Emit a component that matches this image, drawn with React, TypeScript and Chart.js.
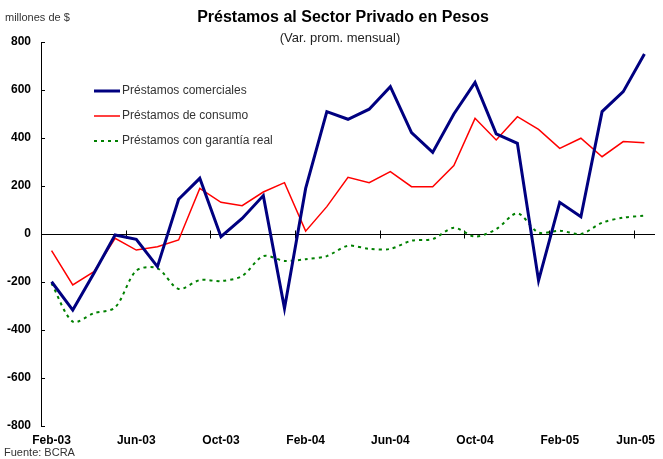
import React, { useEffect, useRef } from "react";
import { Chart, registerables } from "chart.js";

Chart.register(...registerables);

const months: string[] = [
  "Feb-03", "Mar-03", "Apr-03", "May-03", "Jun-03", "Jul-03", "Aug-03", "Sep-03", "Oct-03", "Nov-03", "Dec-03",
  "Jan-04", "Feb-04", "Mar-04", "Apr-04", "May-04", "Jun-04", "Jul-04", "Aug-04", "Sep-04", "Oct-04", "Nov-04", "Dec-04",
  "Jan-05", "Feb-05", "Mar-05", "Apr-05", "May-05", "Jun-05",
];

const tickLabels: string[] = ["Feb-03", "Jun-03", "Oct-03", "Feb-04", "Jun-04", "Oct-04", "Feb-05", "Jun-05"];

const comerciales: number[] = [
  -199, -317, -164, -4, -22, -136, 145, 232, -11, 65, 160,
  -310, 190, 510, 478, 520, 614, 422, 340, 500, 632, 417, 378,
  -194, 132, 72, 510, 593, 750,
];

const consumo: number[] = [
  -69, -212, -157, -18, -67, -53, -25, 190, 132, 118, 175,
  214, 12, 114, 236, 214, 260, 197, 197, 285, 482, 392, 489,
  436, 357, 399, 322, 385, 380,
];

const garantiaReal: number[] = [
  -206, -365, -330, -306, -153, -143, -229, -192, -196, -175, -92,
  -112, -105, -92, -49, -62, -62, -28, -21, 26, -11, 20, 86,
  6, 14, 0, 47, 68, 76,
];

const seriesNames: string[] = ["Préstamos comerciales", "Préstamos de consumo", "Préstamos con garantía real"];

const FONT = '"Liberation Sans", Arial, sans-serif';

const overlayPlugin = {
  id: "overlay",
  beforeDatasetsDraw(chart: any) {
    const { ctx, chartArea } = chart;
    const xs = chart.scales.x;
    const ys = chart.scales.y;
    ctx.save();
    ctx.strokeStyle = "#000";
    ctx.lineWidth = 1;
    // y tick marks (inside)
    ys.ticks.forEach((t: any) => {
      const y = Math.round(ys.getPixelForValue(t.value)) + 0.5;
      ctx.beginPath();
      ctx.moveTo(chartArea.left, y);
      ctx.lineTo(chartArea.left + 4, y);
      ctx.stroke();
    });
    // zero axis line
    const y0 = Math.round(ys.getPixelForValue(0)) + 0.5;
    ctx.beginPath();
    ctx.moveTo(chartArea.left, y0);
    ctx.lineTo(chartArea.right, y0);
    ctx.stroke();
    // x tick marks between categories every 4 months
    const half = (xs.getPixelForValue(1) - xs.getPixelForValue(0)) / 2;
    for (let i = 4; i < months.length; i += 4) {
      const x = Math.round(xs.getPixelForValue(i) - half) + 0.5;
      ctx.beginPath();
      ctx.moveTo(x, y0 - 4);
      ctx.lineTo(x, y0 + 4);
      ctx.stroke();
    }
    ctx.restore();
  },
  afterDraw(chart: any) {
    const { ctx, chartArea } = chart;
    const xs = chart.scales.x;
    ctx.save();
    ctx.textBaseline = "middle";
    // x labels
    ctx.fillStyle = "#000";
    ctx.font = `bold 12px ${FONT}`;
    ctx.textAlign = "center";
    tickLabels.forEach((lab) => {
      const idx = months.indexOf(lab);
      const w = ctx.measureText(lab).width;
      let x = xs.getPixelForValue(idx);
      x = Math.min(x, chartArea.right - w / 2);
      ctx.fillText(lab, x, chartArea.bottom + 15);
    });
    // titles
    ctx.font = `bold 16px ${FONT}`;
    ctx.fillText("Préstamos al Sector Privado en Pesos", 343, 18);
    ctx.font = `13px ${FONT}`;
    ctx.fillStyle = "#222";
    ctx.fillText("(Var. prom. mensual)", 340, 38);
    ctx.textAlign = "left";
    ctx.font = `11px ${FONT}`;
    ctx.fillStyle = "#333";
    ctx.fillText("millones de $", 5, 18);
    ctx.fillText("Fuente: BCRA", 4, 453);
    // legend
    const ds = chart.data.datasets;
    ds.forEach((d: any, i: number) => {
      const y = chartArea.top + 49 + i * 25;
      ctx.save();
      ctx.strokeStyle = d.borderColor;
      ctx.lineWidth = d.borderWidth;
      if (d.borderDash) ctx.setLineDash(d.borderDash);
      ctx.beginPath();
      ctx.moveTo(chartArea.left + 53, y);
      ctx.lineTo(chartArea.left + 79, y);
      ctx.stroke();
      ctx.restore();
      ctx.fillStyle = "#333";
      ctx.font = `12px ${FONT}`;
      ctx.fillText(d.label, chartArea.left + 81, y);
    });
    ctx.restore();
  },
};

export default function App() {
  const ref = useRef<HTMLCanvasElement>(null);
  useEffect(() => {
    if (!ref.current) return;
    const chart = new Chart(ref.current, {
      type: "line",
      data: {
        labels: months,
        datasets: [
          {
            label: seriesNames[0],
            data: comerciales,
            borderColor: "#000080",
            borderWidth: 3,
            pointRadius: 0,
            tension: 0,
            fill: false,
          },
          {
            label: seriesNames[1],
            data: consumo,
            borderColor: "#FF0000",
            borderWidth: 1.5,
            pointRadius: 0,
            tension: 0,
            fill: false,
          },
          {
            label: seriesNames[2],
            data: garantiaReal,
            borderColor: "#008000",
            borderWidth: 2,
            borderDash: [3, 4],
            pointRadius: 0,
            tension: 0.3,
            fill: false,
          },
        ],
      },
      options: {
        animation: false,
        responsive: false,
        maintainAspectRatio: false,
        devicePixelRatio: 1,
        layout: { padding: { left: 0, top: 42, right: 8, bottom: 33 } },
        plugins: {
          legend: { display: false },
          title: { display: false },
          tooltip: { enabled: false },
        },
        scales: {
          x: {
            type: "category",
            offset: true,
            display: false,
          },
          y: {
            type: "linear",
            min: -800,
            max: 800,
            afterFit: (scale: any) => {
              scale.width = 41;
            },
            ticks: {
              stepSize: 200,
              padding: 10,
              color: "#000",
              font: { family: FONT, size: 12, weight: "bold" },
            },
            grid: { display: true, drawOnChartArea: false, drawTicks: false },
            border: { display: true, color: "#000", width: 1 },
          },
        },
      },
      plugins: [overlayPlugin],
    });
    return () => chart.destroy();
  }, []);
  return (
    <div style={{ position: "fixed", left: 0, top: 0, width: 663, height: 459, background: "#fff" }}>
      <canvas ref={ref} width={663} height={459} />
    </div>
  );
}
